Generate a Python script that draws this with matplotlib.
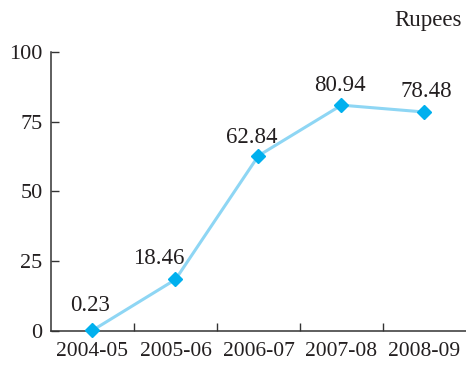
import matplotlib
matplotlib.use("Agg")
from matplotlib import pyplot as plt
import numpy as np

years = ["2004-05", "2005-06", "2006-07", "2007-08", "2008-09"]
rupees = [0.23, 18.46, 62.84, 80.94, 78.48]
label_shift = [(-2, 18), (-12, 15), (-5, 13), (-1, 14), (1, 15)]  # pt offsets for value labels

plt.rcParams['font.family'] = ['Liberation Serif', 'DejaVu Serif']

fig = plt.figure(figsize=(4.66, 3.66), dpi=100)
ax = fig.add_axes([0.1094, 0.0956, 0.8906, 0.7624])

x = np.arange(len(years))
ax.plot(x, rupees, color='#8ed6f4', linewidth=2.2, zorder=2, clip_on=False)
ax.plot(x, rupees, linestyle='none', marker='D', markersize=7.5,
        color='#00b0ee', zorder=3, clip_on=False)

for xi, v, (dx, dy) in zip(x, rupees, label_shift):
    ax.annotate(f"{v:.2f}", (xi, v), xytext=(dx, dy), textcoords='offset points',
                ha='center', va='center', fontsize=16.5, color='#231f20')

ax.set_xlim(-0.5, 4.5)
ax.set_ylim(0, 100)
ax.set_yticks([0, 25, 50, 75, 100])
ax.set_xticks(x)
ax.set_xticklabels(years)
ax.set_xticks(x[:-1] + 0.5, minor=True)

ax.tick_params(axis='y', direction='in', length=6, width=1, color='#333333',
               labelsize=16, pad=6, labelcolor='#231f20')
ax.tick_params(axis='x', which='major', length=0, labelsize=15.5, pad=8,
               labelcolor='#231f20')
ax.tick_params(axis='x', which='minor', direction='in', length=6, width=1,
               color='#333333')

for side in ['top', 'right']:
    ax.spines[side].set_visible(False)
for side in ['left', 'bottom']:
    ax.spines[side].set_color('#333333')
    ax.spines[side].set_linewidth(1.1)

fig.text(0.992, 0.945, "Rupees", ha='right', va='center', fontsize=16.5,
         color='#231f20')

fig.savefig("out.png", dpi=100)
